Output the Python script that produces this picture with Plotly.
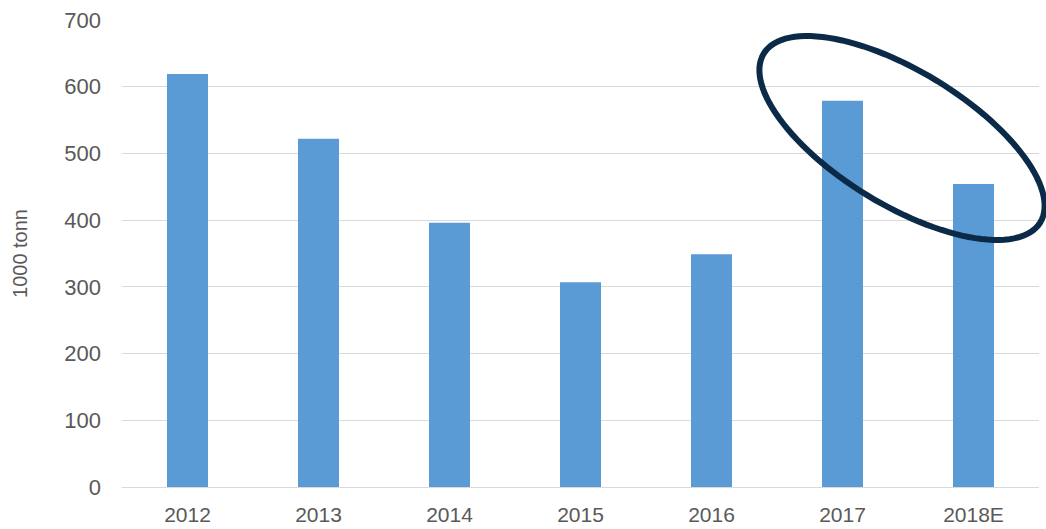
import numpy as np
import plotly.graph_objects as go

categories = ["2012", "2013", "2014", "2015", "2016", "2017", "2018E"]
values = [619, 522, 396, 307, 349, 579, 454]
y_ticks = [0, 100, 200, 300, 400, 500, 600, 700]

fig = go.Figure()
fig.add_trace(go.Bar(x=categories, y=values, marker=dict(color="#5B9BD5", line=dict(width=0)),
                     width=0.313))

# Ellipse annotation (pixel-based geometry converted to paper coords)
L, R, T, B = 122, 1039, 20, 487
W, H = R - L, B - T
cx, cy, a, b, th = 902, 138, 162, 67, np.deg2rad(31.4)
t = np.linspace(0, 2 * np.pi, 121)
px = cx + a * np.cos(t) * np.cos(th) - b * np.sin(t) * np.sin(th)
py = cy + a * np.cos(t) * np.sin(th) + b * np.sin(t) * np.cos(th)
xs = (px - L) / W
ys = (B - py) / H
path = "M " + " L ".join(f"{x:.5f},{y:.5f}" for x, y in zip(xs, ys)) + " Z"
fig.add_shape(type="path", path=path, xref="paper", yref="paper",
              line=dict(color="#0B2A48", width=6))

font = "Liberation Sans, Arial, sans-serif"
fig.update_layout(
    width=1046, height=529,
    margin=dict(l=L, r=1046 - R, t=T, b=529 - B, autoexpand=False),
    plot_bgcolor="white", paper_bgcolor="white",
    showlegend=False,
    font=dict(family=font, size=22, color="#595959"),
    xaxis=dict(showgrid=False, showline=True, linecolor="#D9D9D9", linewidth=1, automargin=False,
               ticks="", ticklabelstandoff=9, tickfont=dict(size=21, color="#595959")),
    yaxis=dict(range=[0, 700], tickvals=y_ticks, showgrid=True, gridcolor="#D9D9D9",
               gridwidth=1, zeroline=False, ticks="", ticklabelstandoff=20, automargin=False,
               tickfont=dict(size=22, color="#595959"),
               title=dict(text="1000 tonn", font=dict(size=20, color="#595959"), standoff=31)),
)

fig.write_html("out.html", config={"displayModeBar": False},
               post_script="document.body.style.margin='0';document.body.style.overflow='hidden';")
